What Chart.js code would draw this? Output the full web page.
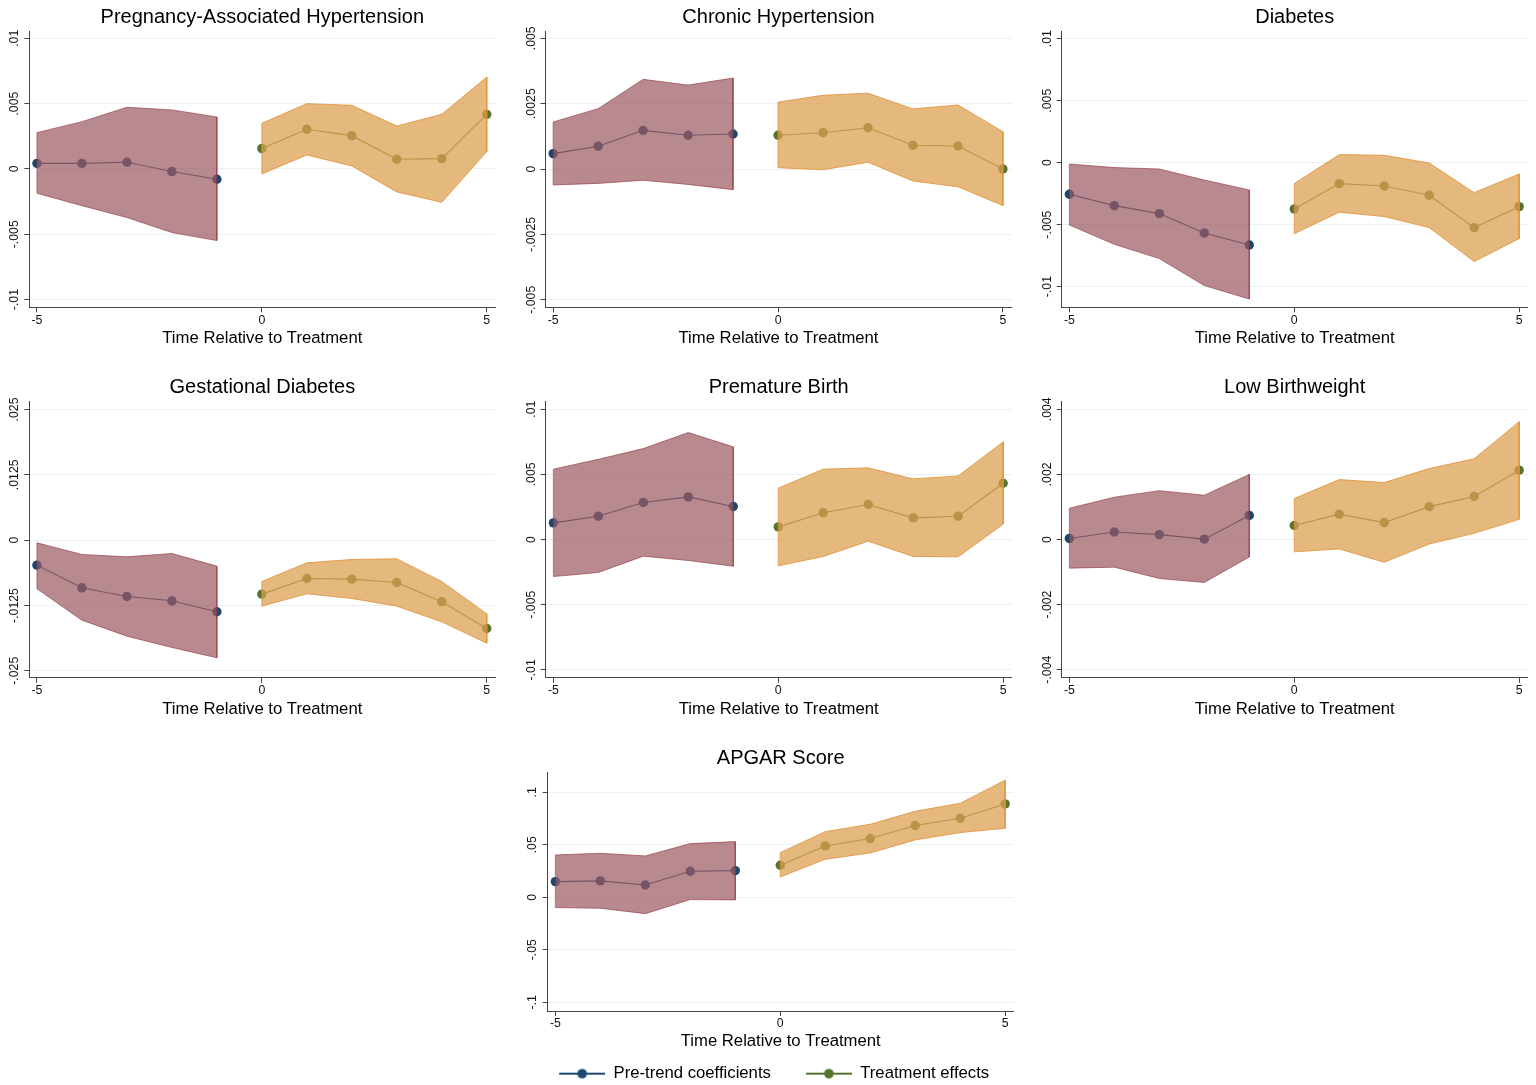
<!DOCTYPE html>
<html>
<head>
<meta charset="utf-8">
<script src="https://cdn.jsdelivr.net/npm/chart.js@4.4.1/dist/chart.umd.min.js"></script>
<style>
html, body { margin: 0; padding: 0; background: #ffffff; overflow: hidden; width: 1536px; height: 1085px; position: relative; }
canvas { position: absolute; }
</style>
</head>
<body>
<script>
// ---------------- DATA ----------------
const periodsPre = [-5, -4, -3, -2, -1];
const periodsPost = [0, 1, 2, 3, 4, 5];
const xTickValues = [-5, 0, 5];
const xTickLabels = ['-5', '0', '5'];
const xAxisTitle = 'Time Relative to Treatment';
const legendLabels = ['Pre-trend coefficients', 'Treatment effects'];

// Pregnancy-Associated Hypertension
const pahPreCoef  = [0.00043, 0.00043, 0.00051, -0.00020, -0.00079];
const pahPreHi    = [0.00278, 0.00362, 0.00472, 0.00452, 0.00398];
const pahPreLo    = [-0.00186, -0.00281, -0.00372, -0.00487, -0.00548];
const pahPostCoef = [0.00156, 0.00304, 0.00255, 0.00074, 0.00079, 0.00418];
const pahPostHi   = [0.00350, 0.00500, 0.00487, 0.00329, 0.00418, 0.00704];
const pahPostLo   = [-0.00038, 0.00107, 0.00023, -0.00176, -0.00255, 0.00133];
const pahYTicks   = [-0.01, -0.005, 0, 0.005, 0.01];
const pahYLabels  = ['-.01', '-.005', '0', '.005', '.01'];

// Chronic Hypertension
const chtnPreCoef  = [0.00059, 0.00087, 0.00148, 0.00129, 0.00134];
const chtnPreHi    = [0.00180, 0.00231, 0.00343, 0.00321, 0.00348];
const chtnPreLo    = [-0.00061, -0.00055, -0.00043, -0.00059, -0.00079];
const chtnPostCoef = [0.00129, 0.00139, 0.00158, 0.00091, 0.00088, 0.00000];
const chtnPostHi   = [0.00256, 0.00282, 0.00290, 0.00230, 0.00245, 0.00143];
const chtnPostLo   = [0.00005, -0.00003, 0.00026, -0.00046, -0.00068, -0.00140];
const chtnYTicks   = [-0.005, -0.0025, 0, 0.0025, 0.005];
const chtnYLabels  = ['-.005', '-.0025', '0', '.0025', '.005'];

// Diabetes
const diabPreCoef  = [-0.00255, -0.00347, -0.00411, -0.00567, -0.00664];
const diabPreHi    = [-0.00011, -0.00040, -0.00051, -0.00140, -0.00220];
const diabPreLo    = [-0.00503, -0.00659, -0.00774, -0.00992, -0.01100];
const diabPostCoef = [-0.00374, -0.00169, -0.00188, -0.00263, -0.00524, -0.00355];
const diabPostHi   = [-0.00169, 0.00065, 0.00059, -0.00003, -0.00242, -0.00091];
const diabPostLo   = [-0.00573, -0.00400, -0.00435, -0.00524, -0.00798, -0.00613];
const diabYTicks   = [-0.01, -0.005, 0, 0.005, 0.01];
const diabYLabels  = ['-.01', '-.005', '0', '.005', '.01'];

// Gestational Diabetes
const gdmPreCoef  = [-0.00478, -0.00912, -0.01078, -0.01161, -0.01371];
const gdmPreHi    = [-0.00051, -0.00274, -0.00319, -0.00255, -0.00497];
const gdmPreLo    = [-0.00931, -0.01531, -0.01837, -0.02054, -0.02251];
const gdmPostCoef = [-0.01033, -0.00733, -0.00746, -0.00810, -0.01180, -0.01690];
const gdmPostHi   = [-0.00791, -0.00434, -0.00370, -0.00357, -0.00791, -0.01409];
const gdmPostLo   = [-0.01263, -0.01027, -0.01116, -0.01263, -0.01563, -0.01971];
const gdmYTicks   = [-0.025, -0.0125, 0, 0.0125, 0.025];
const gdmYLabels  = ['-.025', '-.0125', '0', '.0125', '.025'];

// Premature Birth
const premPreCoef  = [0.00128, 0.00179, 0.00284, 0.00327, 0.00253];
const premPreHi    = [0.00540, 0.00616, 0.00698, 0.00821, 0.00711];
const premPreLo    = [-0.00284, -0.00253, -0.00128, -0.00161, -0.00205];
const premPostCoef = [0.00097, 0.00205, 0.00269, 0.00166, 0.00179, 0.00432];
const premPostHi   = [0.00394, 0.00540, 0.00550, 0.00465, 0.00488, 0.00749];
const premPostLo   = [-0.00202, -0.00130, -0.00013, -0.00130, -0.00133, 0.00118];
const premYTicks   = [-0.01, -0.005, 0, 0.005, 0.01];
const premYLabels  = ['-.01', '-.005', '0', '.005', '.01'];

// Low Birthweight
const lbwPreCoef  = [0.00003, 0.00023, 0.00015, 0.00001, 0.00074];
const lbwPreHi    = [0.00096, 0.00130, 0.00150, 0.00136, 0.00200];
const lbwPreLo    = [-0.00088, -0.00085, -0.00120, -0.00132, -0.00054];
const lbwPostCoef = [0.00043, 0.00078, 0.00052, 0.00101, 0.00132, 0.00213];
const lbwPostHi   = [0.00126, 0.00184, 0.00175, 0.00218, 0.00248, 0.00362];
const lbwPostLo   = [-0.00038, -0.00029, -0.00070, -0.00014, 0.00019, 0.00062];
const lbwYTicks   = [-0.004, -0.002, 0, 0.002, 0.004];
const lbwYLabels  = ['-.004', '-.002', '0', '.002', '.004'];

// APGAR Score
const apgarPreCoef  = [0.0149, 0.0156, 0.0117, 0.0248, 0.0254];
const apgarPreHi    = [0.0403, 0.0419, 0.0394, 0.0511, 0.0530];
const apgarPreLo    = [-0.0098, -0.0105, -0.0156, -0.0022, -0.0025];
const apgarPostCoef = [0.0305, 0.0489, 0.0559, 0.0683, 0.0752, 0.0889];
const apgarPostHi   = [0.0425, 0.0625, 0.0695, 0.0819, 0.0895, 0.1114];
const apgarPostLo   = [0.0194, 0.0362, 0.0422, 0.0546, 0.0616, 0.0657];
const apgarYTicks   = [-0.1, -0.05, 0, 0.05, 0.1];
const apgarYLabels  = ['-.1', '-.05', '0', '.05', '.1'];

// ---------------- STYLE / LAYOUT ----------------
const FONT = '"Liberation Sans", Arial, Helvetica, sans-serif';
Chart.defaults.font.family = FONT;
const TITLE_SIZE = 20, AXIS_TITLE_SIZE = 16.7, TICK_SIZE = 12.3, LEGEND_SIZE = 16.7;
const TICK_LEN = 5, LEG_PAD = 10, CW = 466;
const NAVY = '#1a476f', GREEN = '#55752f';
const PRE_FILL = 'rgba(156,92,98,0.72)', PRE_EDGE = 'rgba(144,53,59,0.62)';
const POST_FILL = 'rgba(220,159,81,0.74)', POST_EDGE = 'rgba(226,142,52,0.8)';
const GRID = '#e9f1f2', AXIS = '#444444';

const row1 = { titleY: 17, chartTop: 31, chartBottom: 307.3, tickY: 321, axisTitleY: 338.3 };
const row2 = { titleY: 387.3, chartTop: 401.5, chartBottom: 677.8, tickY: 691, axisTitleY: 709 };
const row3 = { titleY: 758, chartTop: 772.3, chartBottom: 1011, tickY: 1024, axisTitleY: 1041.7 };

const measureCtx = document.createElement('canvas').getContext('2d');
function textW(t, size) { measureCtx.font = size + 'px ' + FONT; return measureCtx.measureText(t).width; }
function pts(xs, ys) { return xs.map((x, i) => ({ x: x, y: ys[i] })); }
function outline(xs, hi, lo) {
  const up = pts(xs, hi);
  const down = pts(xs, lo).reverse();
  return up.concat(down, [up[0]]);
}
function legendMarker(color) {
  const c = document.createElement('canvas');
  c.width = 71; c.height = 12;
  const g = c.getContext('2d');
  g.fillStyle = color;
  g.fillRect(25, 5, 46, 2);
  g.beginPath(); g.arc(48, 6, 4.8, 0, Math.PI * 2); g.fill();
  return c;
}

const panels = [
  { title: 'Pregnancy-Associated Hypertension', left: 0, top: 0, w: 501, h: 350, ax: 29.3, row: row1, yMin: -0.01059, yMax: 0.01056, yTicks: pahYTicks, yLabels: pahYLabels,
    preCoef: pahPreCoef, preHi: pahPreHi, preLo: pahPreLo, postCoef: pahPostCoef, postHi: pahPostHi, postLo: pahPostLo },
  { title: 'Chronic Hypertension', left: 516, top: 0, w: 501, h: 350, ax: 545.5, row: row1, yMin: -0.00529, yMax: 0.00528, yTicks: chtnYTicks, yLabels: chtnYLabels,
    preCoef: chtnPreCoef, preHi: chtnPreHi, preLo: chtnPreLo, postCoef: chtnPostCoef, postHi: chtnPostHi, postLo: chtnPostLo },
  { title: 'Diabetes', left: 1033, top: 0, w: 501, h: 350, ax: 1061.7, row: row1, yMin: -0.01167, yMax: 0.01062, yTicks: diabYTicks, yLabels: diabYLabels,
    preCoef: diabPreCoef, preHi: diabPreHi, preLo: diabPreLo, postCoef: diabPostCoef, postHi: diabPostHi, postLo: diabPostLo },
  { title: 'Gestational Diabetes', left: 0, top: 370, w: 501, h: 350, ax: 29.3, row: row2, yMin: -0.02634, yMax: 0.02653, yTicks: gdmYTicks, yLabels: gdmYLabels,
    preCoef: gdmPreCoef, preHi: gdmPreHi, preLo: gdmPreLo, postCoef: gdmPostCoef, postHi: gdmPostHi, postLo: gdmPostLo },
  { title: 'Premature Birth', left: 516, top: 370, w: 501, h: 350, ax: 545.7, row: row2, yMin: -0.01061, yMax: 0.01059, yTicks: premYTicks, yLabels: premYLabels,
    preCoef: premPreCoef, preHi: premPreHi, preLo: premPreLo, postCoef: premPostCoef, postHi: premPostHi, postLo: premPostLo },
  { title: 'Low Birthweight', left: 1033, top: 370, w: 501, h: 350, ax: 1061.7, row: row2, yMin: -0.00425, yMax: 0.00424, yTicks: lbwYTicks, yLabels: lbwYLabels,
    preCoef: lbwPreCoef, preHi: lbwPreHi, preLo: lbwPreLo, postCoef: lbwPostCoef, postHi: lbwPostHi, postLo: lbwPostLo },
  { title: 'APGAR Score', left: 500, top: 740, w: 520, h: 352, ax: 547.7, padL: 9.6, row: row3, legend: true, yMin: -0.1083, yMax: 0.119, yTicks: apgarYTicks, yLabels: apgarYLabels,
    preCoef: apgarPreCoef, preHi: apgarPreHi, preLo: apgarPreLo, postCoef: apgarPostCoef, postHi: apgarPostHi, postLo: apgarPostLo }
];

function buildPanel(p) {
  const cv = document.createElement('canvas');
  cv.width = p.w; cv.height = p.h;
  cv.style.left = p.left + 'px'; cv.style.top = p.top + 'px';
  cv.style.width = p.w + 'px'; cv.style.height = p.h + 'px';
  document.body.appendChild(cv);

  const padL = p.padL || 0;
  const yW = p.ax - p.left - padL;
  const padR = p.w - padL - yW - CW;
  const tlh = TITLE_SIZE * 1.2;
  const titlePadTop = p.row.titleY - p.top - tlh / 2;
  const titlePadBottom = p.row.chartTop - p.row.titleY - tlh / 2;
  const legendH = p.legend ? (LEGEND_SIZE + LEG_PAD + 10) : 0;
  const xBottom = p.top + p.h - legendH;
  const xH = xBottom - p.row.chartBottom;
  const axisTitlePadBottom = xBottom - p.row.axisTitleY - AXIS_TITLE_SIZE * 1.2 / 2;
  const xTickPad = p.row.tickY - p.row.chartBottom - TICK_LEN - TICK_SIZE * 1.2 / 2;
  const widest = Math.max.apply(null, p.yLabels.map(t => textW(t, TICK_SIZE)));
  const yLabOff = p.legend ? 15 : 14.3;
  const yTickPad = yLabOff - TICK_LEN - widest / 2;

  const datasets = [
    { data: pts(periodsPre, p.preHi), fill: '+1', backgroundColor: PRE_FILL, borderColor: 'rgba(0,0,0,0)', borderWidth: 0, pointRadius: 0, order: 2 },
    { data: pts(periodsPre, p.preLo), fill: false, borderColor: 'rgba(0,0,0,0)', borderWidth: 0, pointRadius: 0, order: 2 },
    { data: pts(periodsPost, p.postHi), fill: '+1', backgroundColor: POST_FILL, borderColor: 'rgba(0,0,0,0)', borderWidth: 0, pointRadius: 0, order: 2 },
    { data: pts(periodsPost, p.postLo), fill: false, borderColor: 'rgba(0,0,0,0)', borderWidth: 0, pointRadius: 0, order: 2 },
    { data: outline(periodsPre, p.preHi, p.preLo), fill: false, borderColor: PRE_EDGE, borderWidth: 1, pointRadius: 0, order: 1 },
    { data: outline(periodsPost, p.postHi, p.postLo), fill: false, borderColor: POST_EDGE, borderWidth: 1, pointRadius: 0, order: 1 },
    { data: pts(periodsPre, p.preCoef), fill: false, borderColor: NAVY, borderWidth: 1.1, pointRadius: 4.7, pointBackgroundColor: NAVY, pointBorderColor: NAVY, pointBorderWidth: 0, order: 3 },
    { data: pts(periodsPost, p.postCoef), fill: false, borderColor: GREEN, borderWidth: 1.1, pointRadius: 4.7, pointBackgroundColor: GREEN, pointBorderColor: GREEN, pointBorderWidth: 0, order: 3 }
  ];

  const markerPre = legendMarker(NAVY);
  const markerPost = legendMarker(GREEN);

  new Chart(cv, {
    type: 'line',
    data: { datasets: datasets },
    options: {
      responsive: false,
      animation: false,
      devicePixelRatio: 1,
      events: [],
      layout: { padding: { left: padL, right: padR, top: 0, bottom: 0 } },
      elements: { line: { tension: 0 } },
      plugins: {
        tooltip: { enabled: false },
        title: {
          display: true, text: p.title, fullSize: false, color: '#000000',
          font: { size: TITLE_SIZE, weight: 'normal' },
          padding: { top: titlePadTop, bottom: titlePadBottom }
        },
        legend: {
          display: !!p.legend, position: 'bottom', align: 'center', fullSize: true,
          labels: {
            usePointStyle: true, pointStyleWidth: 71, padding: LEG_PAD, color: '#000000',
            font: { size: LEGEND_SIZE },
            generateLabels: () => [
              { text: legendLabels[0], pointStyle: markerPre, fillStyle: NAVY, strokeStyle: NAVY, lineWidth: 0, hidden: false, datasetIndex: 6, fontColor: '#000000' },
              { text: legendLabels[1], pointStyle: markerPost, fillStyle: GREEN, strokeStyle: GREEN, lineWidth: 0, hidden: false, datasetIndex: 7, fontColor: '#000000' }
            ]
          }
        }
      },
      scales: {
        x: {
          type: 'linear', min: -5.17, max: 5.19,
          afterBuildTicks: s => { s.ticks = xTickValues.map(v => ({ value: v })); },
          afterFit: s => { s.height = xH; },
          ticks: { autoSkip: false, minRotation: 0, maxRotation: 0, padding: xTickPad, color: '#111111', font: { size: TICK_SIZE },
            callback: (v, i) => xTickLabels[i] },
          grid: { display: true, drawOnChartArea: false, drawTicks: true, tickLength: TICK_LEN, tickColor: AXIS, color: AXIS, lineWidth: 1 },
          border: { display: true, color: AXIS, width: 1 },
          title: { display: true, text: xAxisTitle, color: '#000000', font: { size: AXIS_TITLE_SIZE }, padding: { top: 0, bottom: axisTitlePadBottom } }
        },
        y: {
          type: 'linear', min: p.yMin, max: p.yMax,
          afterBuildTicks: s => { s.ticks = p.yTicks.map(v => ({ value: v })); },
          afterFit: s => { s.width = yW; },
          ticks: { autoSkip: false, minRotation: 90, maxRotation: 90, crossAlign: 'center', padding: yTickPad, color: '#111111', font: { size: TICK_SIZE },
            callback: (v, i) => p.yLabels[i] },
          grid: { display: true, drawOnChartArea: true, drawTicks: true, tickLength: TICK_LEN, tickColor: AXIS, color: GRID, lineWidth: 1 },
          border: { display: true, color: AXIS, width: 1 }
        }
      }
    }
  });
}

panels.forEach(buildPanel);
</script>
</body>
</html>
